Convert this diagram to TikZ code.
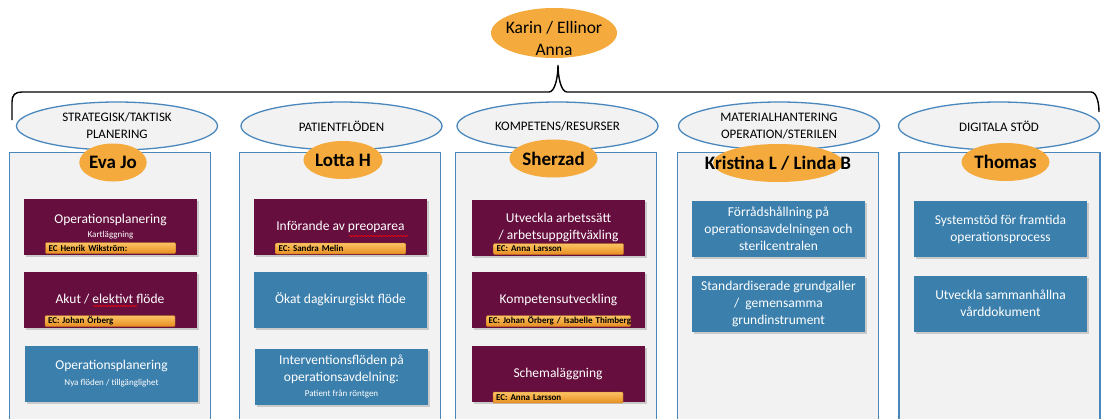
\documentclass[tikz,border=0pt]{standalone}
\usepackage{fontspec}
\setmainfont{Carlito}
\usepackage{xcolor}
\usetikzlibrary{positioning}
\usetikzlibrary{shapes.geometric, shadows}
\usetikzlibrary{decorations.pathmorphing}

\definecolor{projred}{RGB}{102,14,62}
\definecolor{projblue}{RGB}{59,127,173}
\definecolor{colblue}{RGB}{74,135,188}
\definecolor{panelgray}{RGB}{242,242,242}
\definecolor{leadorange}{RGB}{244,170,61}
\definecolor{tagtop}{RGB}{251,196,100}
\definecolor{tagbottom}{RGB}{232,142,32}
\definecolor{tagline}{RGB}{196,118,28}

\begin{document}
\begin{tikzpicture}[x=1pt, y=-1pt, font=\fontsize{13.5}{17}\selectfont]
		\tikzstyle{column}=[draw=colblue, line width=1.3pt, fill=panelgray, rectangle, anchor=north, minimum width=201pt, minimum height=290pt, inner sep=0pt]
		\tikzstyle{area}=[draw=colblue, line width=1.3pt, fill=panelgray, ellipse, minimum width=201pt, minimum height=48pt, inner sep=0pt, align=center, font=\fontsize{13}{17}\selectfont]
		\tikzstyle{lead}=[fill=leadorange, ellipse, minimum width=63pt, minimum height=38pt, inner sep=0pt, font=\bfseries\fontsize{19}{22}\selectfont]
		\tikzstyle{task}=[rectangle, minimum width=173pt, minimum height=56pt, inner sep=2pt, align=center, text=white, drop shadow={shadow xshift=2pt, shadow yshift=-2pt, opacity=0.35}]
		\tikzstyle{ongoing}=[task, fill=projred]
		\tikzstyle{planned}=[task, fill=projblue]
		\tikzstyle{ec}=[rectangle, anchor=south, draw=tagline, line width=0.4pt, top color=tagtop, bottom color=tagbottom, rounded corners=1pt, minimum width=130pt, minimum height=11pt, inner xsep=3pt, inner ysep=0pt, text width=124pt, align=left, font=\bfseries\fontsize{9}{10}\selectfont]
		\tikzstyle{brace}=[draw=black, line width=1.4pt]
		\tikzstyle{squiggle}=[draw=red, line width=0.5pt, decorate, decoration={snake, amplitude=0.7pt, segment length=3pt}]
		\newcommand{\subline}[1]{{\fontsize{9}{11}\selectfont #1}}

		\path[use as bounding box, clip] (0,0) rectangle (1101,418);

		\node[lead, minimum width=126pt, minimum height=50pt] (head) at (554,33) {};
		\node[font=\fontsize{17.5}{22}\selectfont, align=center] (headtxt) at ([yshift=-5pt]head.center) {Karin / Ellinor\\Anna};

		\coordinate (bl) at (12,120);
		\coordinate (tip) at (558,65);
		\coordinate (br) at (1099,112);
		\draw[brace] (bl) -- ++(0,-18) .. controls +(0,-7) and +(-7,0) .. (22,92) -- (549,92) .. controls +(6,0) and +(0,12) .. (tip) .. controls +(0,12) and +(-6,0) .. (567,92) -- (1091,92) .. controls +(6,0) and +(0,-8) .. (br);

		\node[column] (c1) at (110,152) {};
		\node[column] (c2) at (340,152) {};
		\node[column] (c3) at (556,152) {};
		\node[column] (c4) at (778,152) {};
		\node[column] (c5) at (999.5,152) {};

		\node[area] (a1) at (117,126) {STRATEGISK/TAKTISK\\PLANERING};
		\node[area] (a2) at (341.5,126) {PATIENTFLÖDEN};
		\node[area] (a3) at (557.5,126) {KOMPETENS/RESURSER};
		\node[area] (a4) at (779,126) {MATERIALHANTERING\\OPERATION/STERILEN};
		\node[area] (a5) at (999,126) {DIGITALA STÖD};

		\node[lead] (l1) at (113,162.5) {Eva Jo};
		\node[lead] (l2) at (343,160) {Lotta H};
		\node[lead] (l3) at (553.5,158.5) {Sherzad};
		\node[lead, minimum width=130pt] (l4) at (778,163) {};
		\node[lead, fill=none] (l4txt) at (l4.center) {Kristina L / Linda B};
		\node[lead] (l5) at (1005.5,162) {Thomas};

		\node[ongoing] (t1a) at (110.5,226.5) {Operationsplanering\\[-3pt]\subline{Kartläggning}};
		\node[ongoing] (t1b) at (110,299.5) {Akut / elektivt flöde};
		\node[planned] (t1c) at (111.5,373.5) {Operationsplanering\\[-1pt]\subline{Nya flöden / tillgänglighet}};
		\node[ec] (e1a) at ([yshift=1pt]t1a.south) {EC Henrik Wikström:};
		\node[ec] (e1b) at ([yshift=1pt]t1b.south) {EC: Johan Örberg};

		\node[ongoing] (t2a) at (340.5,227) {Införande av preoparea};
		\node[planned] (t2b) at (340.5,299.5) {Ökat dagkirurgiskt flöde};
		\node[planned] (t2c) at (341.5,376.5) {Interventionsflöden på\\operationsavdelning:\\[-2pt]\subline{Patient från röntgen}};
		\node[ec] (e2a) at ([yshift=1pt]t2a.south) {EC: Sandra Melin};

		\node[ongoing] (t3a) at (558.5,227.5) {Utveckla arbetssätt\\/ arbetsuppgiftväxling};
		\node[ongoing] (t3b) at (558.5,299.5) {Kompetensutveckling};
		\node[ongoing] (t3c) at (558,374) {Schemaläggning};
		\node[ec] (e3a) at ([yshift=1pt]t3a.south) {EC: Anna Larsson};
		\node[ec, minimum width=144pt, inner xsep=2pt, text width=140pt] (e3b) at ([yshift=1pt]t3b.south) {\mbox{EC: Johan Örberg / Isabelle Thimberg}};
		\node[ec] (e3c) at ([yshift=-1pt]t3c.south) {EC: Anna Larsson};

		\node[planned] (t4a) at (778.5,229) {Förrådshållning på\\operationsavdelningen och\\sterilcentralen};
		\node[planned] (t4b) at (778.5,304) {Standardiserade grundgaller\\/~~gemensamma\\grundinstrument};

		\node[planned] (t5a) at (1000.5,229) {Systemstöd för framtida\\operationsprocess};
		\node[planned] (t5b) at (1000.5,303.5) {Utveckla sammanhållna\\vårddokument};

		\draw[squiggle] (93,306) -- (137,306);
		\draw[squiggle] (349,236) -- (408,236);
	\end{tikzpicture}
\end{document}
